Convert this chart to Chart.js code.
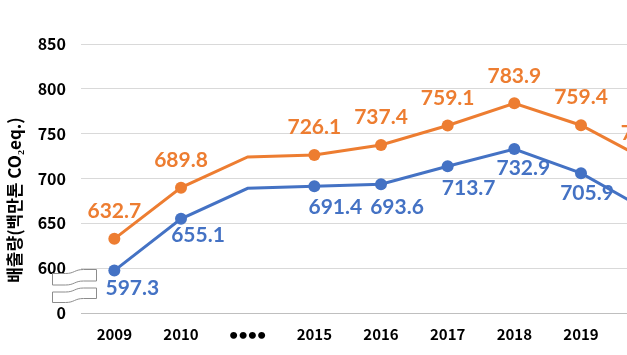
<!DOCTYPE html>
<html><head><meta charset="utf-8">
<script src="https://cdn.jsdelivr.net/npm/chart.js@4.4.1/dist/chart.umd.min.js"></script>
<style>html,body{margin:0;padding:0;overflow:hidden;background:#fff}#c{display:block}</style>
</head><body>
<canvas id="c" width="700" height="355" style="width:700px;height:355px"></canvas>
<script>
// ---- data ----
const categories = ['2009', '2010', '••••', '2015', '2016', '2017', '2018', '2019', '2020'];
const seriesTotal = [632.7, 689.8, 724.0, 726.1, 737.4, 759.1, 783.9, 759.4, 720.0];
const seriesNet   = [597.3, 655.1, 689.0, 691.4, 693.6, 713.7, 732.9, 705.9, 664.0];
const markerShown = [true, true, false, true, true, true, true, true, true];
const yTickValues = [550, 600, 650, 700, 750, 800, 850];
const yTickLabels = ['0', '600', '650', '700', '750', '800', '850'];
const yTitle = '배출량(백만톤 CO₂eq.)';

// ---- label placement (style only) ----
const offTotal = [[0,-28],[0,-28],null,[0,-29],[0,-28],[0,-28],[0,-28],[0,-29],[0,-28]];
const offNet = [[18,17],[17,16],null,[21,20],[16,22],[21,21],[9,19],[6,19],[10,19]];

const ORANGE = '#ED7D31', BLUE = '#4472C4';

const labelPlugin = {
  id: 'vlabels',
  afterDatasetsDraw(chart) {
    const ctx = chart.ctx;
    ctx.save();
    ctx.font = 'bold 21px Lato';
    ctx.textAlign = 'center';
    ctx.textBaseline = 'alphabetic';
    const cfg = [[0, offTotal, ORANGE], [1, offNet, BLUE]];
    cfg.forEach(([di, offs, col]) => {
      const meta = chart.getDatasetMeta(di);
      const vals = chart.data.datasets[di].data;
      meta.data.forEach((pt, i) => {
        if (!markerShown[i] || !offs[i]) return;
        ctx.fillStyle = col;
        ctx.fillText(vals[i].toFixed(1), pt.x + offs[i][0], pt.y + offs[i][1] + 7.5);
      });
    });
    ctx.restore();
  },
  afterDraw(chart) {
    const ctx = chart.ctx;
    ctx.save();
    // y title
    ctx.translate(15, 200);
    ctx.rotate(-Math.PI / 2);
    ctx.font = 'bold 17px "Noto Sans CJK KR"';
    ctx.fillStyle = '#000';
    ctx.textAlign = 'center';
    ctx.textBaseline = 'middle';
    ctx.fillText(yTitle, 0, 0);
    ctx.restore();
    // axis break symbol
    ctx.save();
    ctx.fillStyle = '#fff';
    ctx.strokeStyle = '#8c8c8c';
    ctx.lineWidth = 1;
    const drawWave = (x0, x1, yt, h, d) => {
      const xm = (x0 + x1) / 2;
      ctx.beginPath();
      ctx.moveTo(x0, yt + d);
      ctx.lineTo(xm - 9, yt + d);
      ctx.bezierCurveTo(xm, yt + d, xm, yt, xm + 9, yt);
      ctx.lineTo(x1, yt);
      ctx.lineTo(x1, yt + h);
      ctx.lineTo(xm + 9, yt + h);
      ctx.bezierCurveTo(xm, yt + h, xm, yt + h + d, xm - 9, yt + h + d);
      ctx.lineTo(x0, yt + h + d);
      ctx.closePath();
      ctx.fill();
      ctx.stroke();
    };
    drawWave(52.5, 96.5, 269.5, 11.5, 4);
    drawWave(52.5, 96.5, 288, 10.5, 4);
    ctx.restore();
  }
};

const tickFont = { family: '"Noto Sans CJK KR"', weight: 'bold', size: 15 };

new Chart(document.getElementById('c'), {
  type: 'line',
  data: {
    labels: categories,
    datasets: [
      { data: seriesTotal, borderColor: ORANGE, backgroundColor: ORANGE, borderWidth: 3,
        pointRadius: markerShown.map(s => s ? 6 : 0), pointBorderWidth: 0, tension: 0 },
      { data: seriesNet, borderColor: BLUE, backgroundColor: BLUE, borderWidth: 3,
        pointRadius: markerShown.map(s => s ? 6 : 0), pointBorderWidth: 0, tension: 0 }
    ]
  },
  options: {
    responsive: false,
    animation: false,
    devicePixelRatio: 1,
    layout: { padding: { left: 0, right: 19, top: 44, bottom: 0 } },
    plugins: { legend: { display: false }, tooltip: { enabled: false } },
    scales: {
      x: {
        offset: true,
        grid: { display: false, drawTicks: false },
        border: { display: false },
        ticks: { color: '#000',
          font: c => (c.index === 2 ? { family: 'Lato', weight: 'bold', size: 16 } : tickFont),
          padding: 12, maxRotation: 0, autoSkip: false },
        afterFit(s) { s.height = 42; }
      },
      y: {
        min: 550, max: 850,
        afterBuildTicks(s) { s.ticks = yTickValues.map(v => ({ value: v })); },
        grid: { drawTicks: false, color: c => (c.tick && c.tick.value === 550) ? '#bfbfbf' : '#d9d9d9', lineWidth: 1 },
        border: { display: false },
        ticks: { color: '#000', font: { family: '"Noto Sans CJK KR"', weight: 'bold', size: 16 }, padding: 15,
          callback: v => yTickLabels[yTickValues.indexOf(v)] },
        afterFit(s) { s.width = 81; }
      }
    }
  },
  plugins: [labelPlugin]
});
</script>
</body></html>
